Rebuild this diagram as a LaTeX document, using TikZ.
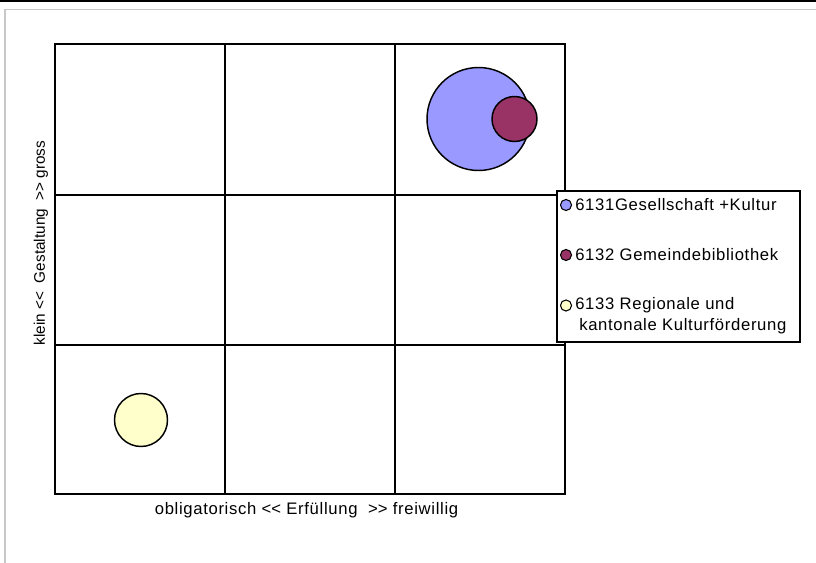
\documentclass[tikz,border=0pt]{standalone}
\usepackage{fontspec}
\setmainfont{Liberation Sans}
\definecolor{cblue}{HTML}{9999FF}
\definecolor{cplum}{HTML}{993366}
\definecolor{cyell}{HTML}{FFFFCC}
\definecolor{cframe}{HTML}{C8C8C8}
\newcommand{\dlt}{<\kern0pt<}
\newcommand{\dgt}{>\kern0pt>}
\begin{document}
\begin{tikzpicture}[x=0.75pt,y=-0.75pt,
  gridline/.style={line width=1.2pt,black},
  bubble/.style={circle,draw=black,line width=1.1pt,inner sep=0pt},
  marker/.style={circle,draw=black,line width=0.8pt,inner sep=0pt,minimum size=8.3pt},
  lbl/.style={inner sep=0pt,font=\fontsize{12.5}{15}\selectfont\addfontfeature{LetterSpace=4}},
  ylbl/.style={inner sep=0pt,font=\fontsize{11.5}{14}\selectfont}]
\useasboundingbox (0,0) rectangle (816,563);
% frame
\fill[black] (0,0) rectangle (816,2);
\draw[cframe,line width=1pt] (5,563) -- (5,9.5) -- (816,9.5);
% grid
\draw[gridline] (55,44) rectangle (565,494);
\draw[gridline] (225,44) -- (225,494);
\draw[gridline] (395,44) -- (395,494);
\draw[gridline] (55,195) -- (565,195);
\draw[gridline] (55,345) -- (565,345);
% bubbles
\node[bubble,fill=cblue,minimum size=77.25pt] (b1) at (478.5,119) {};
\node[bubble,fill=cplum,minimum size=33.75pt] (b2) at (514.5,119) {};
\node[bubble,fill=cyell,minimum size=39.75pt] (b3) at (141,420) {};
% axis labels
\node[lbl] (xl) at (306.5,510) {obligatorisch \dlt{} Erfüllung\ \ \dgt{} freiwillig};
\node[ylbl,rotate=90] (yl) at (41,243) {klein \dlt\ \ Gestaltung\ \ \dgt{} gross};
% legend
\draw[black,line width=1.1pt,fill=white] (557,191) rectangle (800,342);
\node[marker,fill=cblue] (m1) at (566,205) {};
\node[marker,fill=cplum] (m2) at (566,255) {};
\node[marker,fill=cyell] (m3) at (566,305.5) {};
\node[lbl,anchor=west] (t1) at (575,205) {6131Gesellschaft +Kultur};
\node[lbl,anchor=west] (t2) at (575,255) {6132 Gemeindebibliothek};
\node[lbl,anchor=west] (t3) at (575,305.5) {6133 Regionale und};
\node[lbl,anchor=west] (t4) at (579,326.5) {kantonale Kulturförderung};
\end{tikzpicture}
\end{document}
